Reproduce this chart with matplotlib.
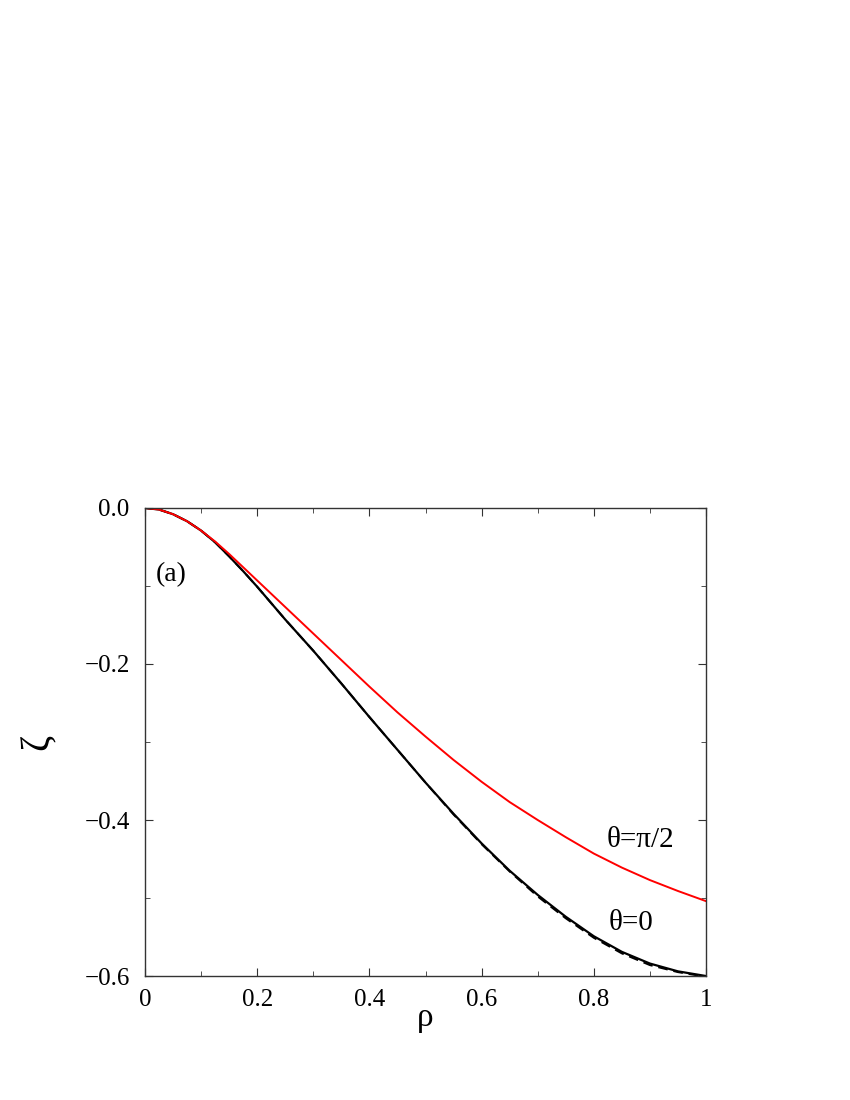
import matplotlib
matplotlib.use("Agg")
import matplotlib.pyplot as plt
from matplotlib.ticker import MultipleLocator

# data
rho = [0.0, 0.025, 0.05, 0.075, 0.1, 0.125, 0.15, 0.175, 0.2, 0.225, 0.25, 0.275, 0.3,
       0.35, 0.4, 0.45, 0.5, 0.55, 0.6, 0.65, 0.7, 0.75, 0.8, 0.85, 0.9, 0.95, 1.0]
zeta_theta0 = [0.0, -0.002, -0.008, -0.017, -0.029, -0.044, -0.062, -0.081, -0.101, -0.122, -0.143, -0.163, -0.183,
               -0.225, -0.268, -0.310, -0.352, -0.392, -0.430, -0.465, -0.496, -0.524, -0.549, -0.569, -0.584, -0.594, -0.600]
zeta_theta0_dash = [0.0, -0.002, -0.008, -0.017, -0.029, -0.044, -0.062, -0.081, -0.101, -0.122, -0.143, -0.163, -0.183,
                    -0.225, -0.268, -0.310, -0.352, -0.393, -0.431, -0.466, -0.498, -0.526, -0.551, -0.571, -0.586, -0.595, -0.601]
zeta_theta90 = [0.0, -0.002, -0.008, -0.017, -0.029, -0.043, -0.059, -0.076, -0.093, -0.110, -0.127, -0.144, -0.161,
                -0.195, -0.229, -0.262, -0.293, -0.323, -0.351, -0.377, -0.400, -0.422, -0.443, -0.461, -0.477, -0.491, -0.504]

plt.rcParams['font.family'] = ['Liberation Serif', 'DejaVu Serif']

fig = plt.figure(figsize=(8.5, 11), dpi=100)
ax = fig.add_axes([0.1706, 0.1127, 0.66, 0.4255])

ax.plot(rho, zeta_theta0_dash, color='black', lw=1.4, ls=(0, (5, 3)))
ax.plot(rho, zeta_theta0, color='black', lw=1.6)
ax.plot(rho, zeta_theta90, color='red', lw=1.4)

ax.set_xlim(0, 1)
ax.set_ylim(-0.6, 0.0)
ax.set_xticks([0, 0.2, 0.4, 0.6, 0.8, 1.0])
ax.set_xticklabels(['0', '0.2', '0.4', '0.6', '0.8', '1'])
ax.set_yticks([-0.6, -0.4, -0.2, 0.0])
ax.set_yticklabels(['\u22120.6', '\u22120.4', '\u22120.2', '0.0'])
ax.xaxis.set_minor_locator(MultipleLocator(0.1))
ax.yaxis.set_minor_locator(MultipleLocator(0.1))
ax.tick_params(which='both', direction='in', top=True, right=True, labelsize=18, color='#333333')
ax.tick_params(which='major', length=6)
ax.tick_params(which='minor', length=3.5)
ax.tick_params(axis='x', which='major', pad=9)
ax.tick_params(axis='y', which='major', pad=11)
for s in ax.spines.values():
    s.set_color('#333333')
    s.set_linewidth(1.0)

ax.set_xlabel('\u03c1', fontsize=24, labelpad=-6)
ax.set_ylabel('\u03b6', fontsize=28, labelpad=20, rotation=90)

ax.text(0.02, -0.086, '(a)', fontsize=20, va='center', ha='left')
ax.text(0.823, -0.426, '\u03b8=\u03c0/2', fontsize=21, va='center', ha='left')
ax.text(0.827, -0.532, '\u03b8=0', fontsize=21, va='center', ha='left')

fig.savefig('out.png', dpi=100)
